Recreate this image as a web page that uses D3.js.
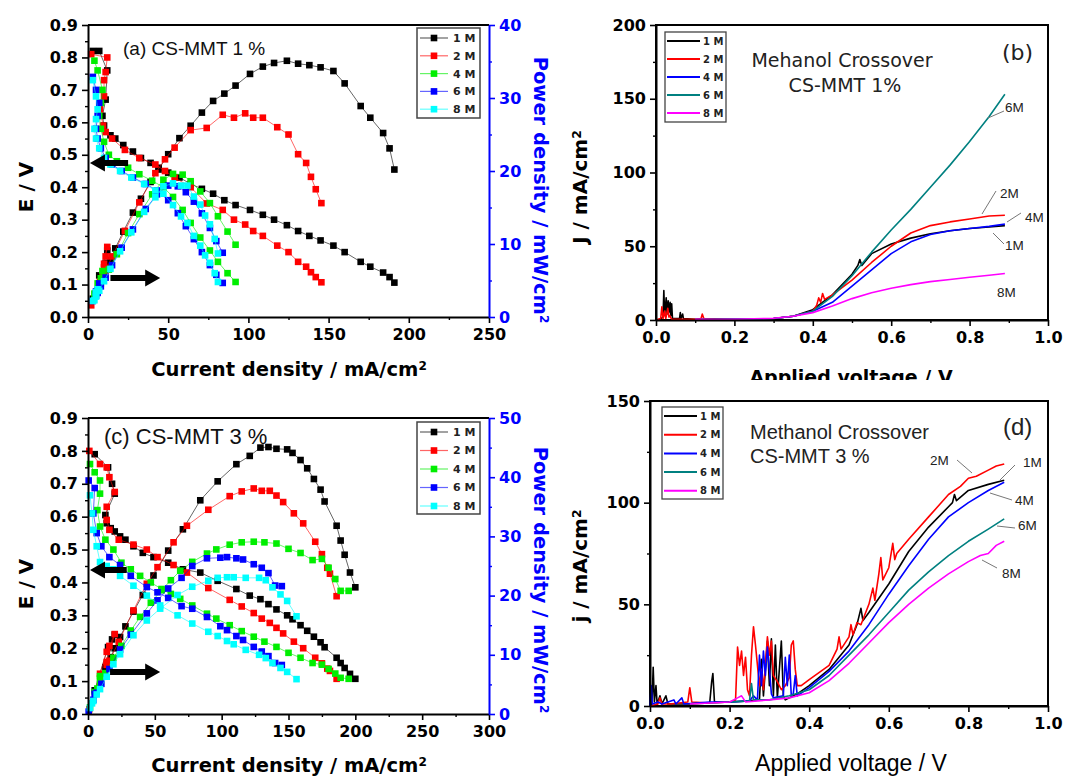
<!DOCTYPE html>
<html>
<head>
<meta charset="utf-8">
<script src="https://cdn.jsdelivr.net/npm/d3@7"></script>
<style>
  body { margin: 0; background: #fff; }
  svg { display: block; }
</style>
</head>
<body>
<svg id="fig" width="1081" height="778"></svg>
<script>
// ---------- labels and colours of the methanol concentrations ----------
const concLabels = ["1 M", "2 M", "4 M", "6 M", "8 M"];
const dotColors = ["#000000", "#ff0000", "#00ee00", "#0000ff", "#00ffff"];
const lineColors = ["#000000", "#ff0000", "#0000ff", "#008080", "#ff00ff"];

// ---------- tick values ----------
const eTicks = [0, 0.1, 0.2, 0.3, 0.4, 0.5, 0.6, 0.7, 0.8, 0.9];
const eMinor = [0.05, 0.15, 0.25, 0.35, 0.45, 0.55, 0.65, 0.75, 0.85];
const aCurTicks = [0, 50, 100, 150, 200, 250];
const aCurMinor = [25, 75, 125, 175, 225];
const cCurTicks = [0, 50, 100, 150, 200, 250, 300];
const cCurMinor = [25, 75, 125, 175, 225, 275];
const aPowTicks = [0, 10, 20, 30, 40];
const aPowMinor = [5, 15, 25, 35];
const cPowTicks = [0, 10, 20, 30, 40, 50];
const cPowMinor = [5, 15, 25, 35, 45];
const voltTicks = [0, 0.2, 0.4, 0.6, 0.8, 1.0];
const voltMinor = [0.1, 0.3, 0.5, 0.7, 0.9];
const bJTicks = [0, 50, 100, 150, 200];
const bJMinor = [25, 75, 125, 175];
const dJTicks = [0, 50, 100, 150];
const dJMinor = [25, 75, 125];

// ---------- (a) CS-MMT 1 %: current density (mA/cm2), cell voltage (V), power density (mW/cm2) ----------
const aI1 = [3,7,12,11,9,10,14,17,22,28,33,39,44,50,57,64,71,78,85,92,101,109,116,124,131,138,145,153,160,170,176,184,188,191];
const aE1 = [0.82,0.82,0.76,0.67,0.62,0.59,0.56,0.55,0.53,0.51,0.49,0.475,0.46,0.445,0.43,0.41,0.395,0.38,0.36,0.345,0.33,0.315,0.30,0.283,0.265,0.25,0.236,0.22,0.20,0.17,0.155,0.137,0.123,0.106];
const aP1 = [2.5,5.7,9.1,7.4,5.6,5.9,7.8,9.4,11.7,14.3,16.2,18.5,20.2,22.3,24.5,26.2,28.0,29.6,30.6,31.7,33.3,34.3,34.8,35.1,34.7,34.5,34.2,33.7,32.0,28.9,27.3,25.2,23.1,20.2];

const aI2 = [2,12,11,10,10,7.5,9.4,11,15,23,32,42,48,54,64,74,84,91,98,103,109,118,125,131,136,139,142,145.5];
const aE2 = [0.81,0.80,0.755,0.73,0.68,0.64,0.59,0.57,0.55,0.515,0.49,0.47,0.45,0.43,0.40,0.35,0.33,0.30,0.285,0.265,0.25,0.22,0.20,0.17,0.155,0.138,0.123,0.107];
const aP2 = [1.6,9.6,8.3,7.3,6.8,4.8,5.5,6.3,8.3,11.8,15.7,19.7,21.6,23.2,25.6,25.9,27.7,27.3,27.9,27.3,27.3,26.0,25.0,22.3,21.1,19.2,17.5,15.6];

const aI4 = [4,6,9,8,7,8,10,13,18,25,32,40,47,53,59,64,70,76,81,87,92];
const aE4 = [0.79,0.76,0.70,0.66,0.62,0.58,0.54,0.50,0.48,0.46,0.44,0.42,0.40,0.37,0.33,0.29,0.245,0.205,0.17,0.135,0.108];
const aP4 = [3.2,4.6,6.3,5.3,4.3,4.6,5.4,6.5,8.6,11.5,14.1,16.8,18.8,19.6,19.5,18.6,17.2,15.6,13.8,11.7,9.9];

const aI6 = [3,5,7,6,5,6,8,11,15,21,28,36,43,50,56,61,66,71,76,80,84];
const aE6 = [0.74,0.70,0.66,0.62,0.58,0.55,0.52,0.49,0.47,0.45,0.43,0.41,0.39,0.36,0.32,0.28,0.24,0.20,0.16,0.13,0.105];
const aP6 = [2.2,3.5,4.6,3.7,2.9,3.3,4.2,5.4,7.1,9.5,12.0,14.8,16.8,18.0,17.9,17.1,15.8,14.2,12.2,10.4,8.8];

const aI8 = [3,5,6,5,4,5,7,10,14,20,27,35,42,47,53,58,62,66,70,73,76,79,81];
const aE8 = [0.73,0.68,0.64,0.61,0.58,0.55,0.52,0.49,0.47,0.45,0.43,0.41,0.39,0.38,0.345,0.31,0.29,0.25,0.22,0.19,0.167,0.135,0.108];
const aP8 = [2.2,3.4,3.8,3.1,2.3,2.8,3.6,4.9,6.6,9.0,11.6,14.4,16.4,17.9,18.3,18.0,18.0,16.5,15.4,13.9,12.7,10.7,8.7];

// ---------- (c) CS-MMT 3 % ----------
const cI1 = [5,15,18,20,13,14,17,20,24,28,34,41,49,60,71,84,97,111,121,129,135,141,149,153,159,164,169,174,177,186,189,192,196,200];
const cE1 = [0.79,0.75,0.70,0.67,0.605,0.58,0.565,0.555,0.54,0.53,0.51,0.49,0.477,0.46,0.44,0.43,0.405,0.38,0.36,0.349,0.334,0.318,0.30,0.288,0.27,0.253,0.235,0.218,0.203,0.171,0.155,0.14,0.122,0.107];
const cP1 = [4.0,11.3,12.6,13.4,7.9,8.1,9.6,11.1,13.0,14.8,17.3,20.1,23.4,27.6,31.2,36.1,39.3,42.2,43.6,45.0,45.1,44.8,44.7,44.1,42.9,41.5,39.7,37.9,35.9,31.8,29.3,26.9,23.9,21.4];

const cI2 = [1,9,14,16,20,14,14,16,23,34,44,52,64,74,90,106,115,124,130,136,141,146,154,161,170,175,179,181,186];
const cE2 = [0.80,0.76,0.75,0.72,0.675,0.63,0.59,0.56,0.53,0.515,0.50,0.477,0.453,0.43,0.383,0.347,0.327,0.307,0.29,0.277,0.262,0.245,0.22,0.20,0.171,0.154,0.138,0.131,0.107];
const cP2 = [0.8,6.8,10.5,11.5,13.5,8.8,8.3,9.0,12.2,17.5,22.0,24.8,29.0,31.8,34.5,36.8,37.6,38.1,37.7,37.7,36.9,35.8,33.9,32.2,29.1,27.0,24.7,23.7,19.9];

const cI4 = [1.5,5,9,9,7,9,13,19,25,32,39,47,55,62,69,78,89,96,106,115,124,132,141,150,159,168,175,180,185,189,195];
const cE4 = [0.76,0.735,0.71,0.67,0.62,0.57,0.53,0.50,0.46,0.44,0.42,0.40,0.38,0.365,0.35,0.33,0.305,0.29,0.27,0.252,0.235,0.22,0.204,0.186,0.171,0.155,0.15,0.137,0.123,0.11,0.107];
const cP4 = [1.1,3.7,6.4,6.0,4.3,5.1,6.9,9.5,11.5,14.1,16.4,18.8,20.9,22.6,24.2,25.7,27.1,27.8,28.6,29.0,29.1,29.0,28.8,27.9,27.2,26.0,26.2,24.7,22.8,20.8,20.8];

const cI6 = [0.5,5,4,6.5,10,16,24,32,44,52,60,70,78,89,99,104,111,116,124,130,135,140,145];
const cE6 = [0.71,0.687,0.61,0.55,0.51,0.477,0.453,0.42,0.386,0.37,0.353,0.328,0.32,0.295,0.267,0.255,0.237,0.225,0.204,0.19,0.176,0.155,0.149];
const cP6 = [0.4,3.4,2.4,3.6,5.1,7.6,10.9,13.4,17.0,19.2,21.2,23.0,25.0,26.3,26.4,26.5,26.3,26.1,25.3,24.7,23.8,21.7,21.6];

const cI8 = [1.5,3,4,6.5,9,14,19,24,34,44,54,67,78,90,97,104,109,118,128,133,138,144,149,156];
const cE8 = [0.665,0.61,0.56,0.51,0.462,0.45,0.44,0.42,0.39,0.36,0.33,0.30,0.275,0.25,0.237,0.222,0.212,0.195,0.18,0.17,0.155,0.14,0.128,0.106];
const cP8 = [1.0,1.8,2.2,3.3,4.2,6.3,8.4,10.1,13.3,15.8,17.8,20.1,21.5,22.5,23.0,23.1,23.1,23.0,23.0,22.6,21.4,20.2,19.1,16.5];

// ---------- (b) methanol crossover, CS-MMT 1 %: [applied voltage V, j mA/cm2] ----------
const b1M = [[0,0],[0.01,0.5],[0.018,2],[0.02,20],[0.022,3],[0.026,15],[0.028,4],[0.031,13],[0.033,5],[0.036,12],[0.038,3],[0.04,11],[0.042,1],[0.06,1],[0.062,5],[0.064,1],[0.068,4],[0.07,1],[0.1,0.5],[0.2,0.5],[0.3,1],[0.35,2.5],[0.4,7],[0.45,17],[0.5,31],[0.515,37],[0.52,41],[0.525,37],[0.55,45],[0.6,51.5],[0.65,55.5],[0.7,58.5],[0.75,60.5],[0.8,62],[0.85,63],[0.89,64]];
const b2M = [[0,0],[0.012,1],[0.015,9],[0.018,1],[0.022,6],[0.025,1],[0.03,8],[0.033,2],[0.035,3],[0.04,0.5],[0.1,0.5],[0.115,1],[0.118,4],[0.122,1],[0.2,0.5],[0.3,1],[0.35,2.5],[0.4,6],[0.41,10],[0.415,15],[0.42,12],[0.425,18],[0.43,14],[0.45,17],[0.5,27],[0.55,39],[0.6,50],[0.65,59],[0.7,64],[0.75,66.5],[0.8,68.5],[0.85,70.5],[0.89,71]];
const b4M = [[0.1,0.3],[0.2,0.5],[0.3,1],[0.35,2.5],[0.4,6],[0.45,12],[0.5,23],[0.55,34],[0.6,45],[0.65,53],[0.7,58],[0.75,60.5],[0.8,62],[0.85,63.5],[0.89,65]];
const b6M = [[0.1,0.3],[0.2,0.5],[0.3,1],[0.35,2.5],[0.4,6],[0.45,16],[0.5,30],[0.55,46],[0.6,61],[0.65,75],[0.7,90],[0.75,105],[0.8,121],[0.85,138],[0.89,153]];
const b8M = [[0.1,0.5],[0.15,0.3],[0.2,0.5],[0.25,0.8],[0.3,1.2],[0.35,2.5],[0.4,5],[0.45,9.5],[0.5,14.5],[0.55,18.5],[0.6,21.5],[0.65,24],[0.7,26],[0.75,27.5],[0.8,29],[0.85,30.3],[0.89,31.5]];

// ---------- (d) methanol crossover, CS-MMT 3 % ----------
const d1M = [[0,0],[0.005,1],[0.008,19],[0.011,2],[0.015,10],[0.018,1],[0.025,5],[0.03,1],[0.04,5],[0.045,1],[0.1,1],[0.15,1.5],[0.155,12],[0.158,16],[0.162,2],[0.2,2],[0.25,2.5],[0.275,3],[0.28,23],[0.285,5],[0.295,32],[0.3,10],[0.305,33],[0.31,5],[0.315,30],[0.32,4],[0.33,32],[0.335,5],[0.34,3],[0.37,6],[0.4,10],[0.45,18],[0.5,30],[0.52,40],[0.53,48],[0.535,42],[0.55,46],[0.6,60],[0.65,76],[0.7,88],[0.75,98],[0.76,100],[0.765,104],[0.77,101],[0.8,106],[0.85,109],[0.89,111]];
const d2M = [[0,0],[0.02,1],[0.025,4],[0.03,1],[0.05,1],[0.095,2],[0.1,9],[0.105,2],[0.15,1.5],[0.2,2],[0.215,3],[0.22,29],[0.225,20],[0.23,27],[0.235,15],[0.24,24],[0.245,8],[0.25,5],[0.255,25],[0.26,39],[0.265,30],[0.27,20],[0.275,10],[0.28,18],[0.285,8],[0.29,20],[0.295,34],[0.3,25],[0.305,32],[0.31,15],[0.32,12],[0.33,8],[0.34,10],[0.35,14],[0.355,30],[0.36,32],[0.365,18],[0.37,10],[0.38,10],[0.4,13],[0.45,20],[0.47,28],[0.475,34],[0.48,28],[0.5,34],[0.505,40],[0.51,35],[0.52,41],[0.53,40],[0.55,50],[0.56,58],[0.565,52],[0.575,65],[0.58,73],[0.585,62],[0.6,68],[0.61,80],[0.615,72],[0.62,75],[0.65,82],[0.7,93],[0.75,104],[0.78,108],[0.8,112],[0.82,113],[0.85,116],[0.87,118],[0.89,119]];
const d4M = [[0,0],[0.003,10],[0.006,1],[0.02,2],[0.03,1],[0.06,3],[0.065,1],[0.08,4],[0.085,1],[0.15,2],[0.2,2],[0.25,2.5],[0.26,5],[0.27,3],[0.275,25],[0.28,10],[0.285,27],[0.29,15],[0.295,29],[0.3,18],[0.305,6],[0.31,4],[0.335,5],[0.34,24],[0.345,10],[0.35,25],[0.355,5],[0.36,6],[0.365,15],[0.37,5],[0.4,9],[0.45,17],[0.5,27],[0.55,40],[0.6,55],[0.65,69],[0.7,82],[0.75,93],[0.8,100],[0.85,106],[0.89,110]];
const d6M = [[0.15,1.5],[0.2,2],[0.25,2.5],[0.255,11],[0.26,3],[0.3,3],[0.35,5],[0.4,8],[0.45,15],[0.5,25],[0.55,35],[0.6,46],[0.65,57],[0.7,66],[0.75,74],[0.8,81],[0.85,87],[0.89,92]];
const d8M = [[0.1,1],[0.2,2],[0.22,4],[0.23,5],[0.24,2],[0.3,3],[0.35,4],[0.4,6.5],[0.45,12.5],[0.5,21],[0.55,31],[0.6,41],[0.65,50],[0.7,58],[0.75,65],[0.8,71],[0.83,74],[0.85,75],[0.87,79],[0.89,81]];

// ---------- drawing ----------
const FB = "'DejaVu Sans', sans-serif";
const FA = "'Liberation Sans', Arial, sans-serif";
const svg = d3.select("#fig");

function styleAxis(g, color, fs) {
  g.select(".domain").attr("stroke", color).attr("stroke-width", 2);
  g.selectAll(".tick line").attr("stroke", color).attr("stroke-width", 1.6);
  g.selectAll(".tick text").attr("fill", color)
    .style("font-family", FB).style("font-weight", "bold").style("font-size", fs + "px");
}
function minor(g, gen, color) {
  g.call(gen);
  g.select(".domain").remove();
  g.selectAll(".tick line").attr("stroke", color).attr("stroke-width", 1.4);
}
function axisPair(g, maker, scale, majors, minors, fmt, color, fs, pad) {
  const gMaj = g.append("g");
  gMaj.call(maker(scale).tickValues(majors).tickFormat(fmt).tickSize(6).tickSizeOuter(0).tickPadding(pad));
  styleAxis(gMaj, color, fs);
  minor(g.append("g"), maker(scale).tickValues(minors).tickFormat("").tickSize(3).tickSizeOuter(0), color);
}

// text with a superscript tail
function titleText(parent, x, y, rot, main, sup, opts) {
  const t = parent.append("text")
    .attr("transform", `translate(${x},${y}) rotate(${rot})`)
    .attr("text-anchor", opts.anchor || "middle")
    .style("font-family", opts.family || FB)
    .style("font-weight", opts.weight || "bold")
    .style("font-size", opts.size + "px")
    .attr("fill", opts.color || "#000");
  t.append("tspan").text(main);
  if (sup) t.append("tspan").attr("dy", "-0.5em").style("font-size", "62%").text(sup);
  return t;
}

function arrowShape(g, x0, x1, y, left) {
  // thick block arrow; tip at x0 when pointing left, at x1 when pointing right
  const head = 15, hw = 8.5, sw = 3;
  let pts;
  if (left) {
    pts = [[x0, y], [x0 + head, y - hw], [x0 + head, y - sw], [x1, y - sw], [x1, y + sw], [x0 + head, y + sw], [x0 + head, y + hw]];
  } else {
    pts = [[x1, y], [x1 - head, y - hw], [x1 - head, y - sw], [x0, y - sw], [x0, y + sw], [x1 - head, y + sw], [x1 - head, y + hw]];
  }
  g.append("polygon").attr("points", pts.map(p => p.join(",")).join(" ")).attr("fill", "#000");
}

function polarizationPanel(cfg) {
  const g = svg.append("g");
  const x = d3.scaleLinear().domain(cfg.xDomain).range([88, 489]);
  const yE = d3.scaleLinear().domain([0, 0.9]).range([cfg.bottom, cfg.top]);
  const yP = d3.scaleLinear().domain(cfg.pDomain).range([cfg.bottom, cfg.top]);

  // frame: top line
  g.append("line").attr("x1", 88).attr("x2", 489).attr("y1", cfg.top).attr("y2", cfg.top)
    .attr("stroke", "#000").attr("stroke-width", 2);

  // series: polarization (E) and power (P) curves
  cfg.series.forEach((s, k) => {
    [s.E, s.P].forEach((vals, m) => {
      const yS = m === 0 ? yE : yP;
      const pts = s.I.map((v, j) => [v, vals[j]]);
      g.append("path").datum(pts)
        .attr("d", d3.line().x(d => x(d[0])).y(d => yS(d[1])))
        .attr("fill", "none").attr("stroke", dotColors[k]).attr("stroke-width", 1).attr("opacity", 0.6);
      g.selectAll(null).data(pts).join("rect")
        .attr("x", d => x(d[0]) - 3.3).attr("y", d => yS(d[1]) - 3.3)
        .attr("width", 6.6).attr("height", 6.6).attr("fill", dotColors[k]);
    });
  });

  // axes
  axisPair(g.append("g").attr("transform", `translate(0,${cfg.bottom})`), d3.axisBottom, x, cfg.xTicks, cfg.xMinor, d3.format("d"), "#000", 16, 6);
  axisPair(g.append("g").attr("transform", "translate(88,0)"), d3.axisLeft, yE, eTicks, eMinor, d3.format(".1f"), "#000", 16, 4);
  axisPair(g.append("g").attr("transform", "translate(489,0)"), d3.axisRight, yP, cfg.pTicks, cfg.pMinor, d3.format("d"), "#0000ff", 16, 4);

  // arrows pointing to the matching axes
  arrowShape(g, x(cfg.leftArrow[0]), x(cfg.leftArrow[1]), yE(cfg.leftArrow[2]), true);
  arrowShape(g, x(cfg.rightArrow[0]), x(cfg.rightArrow[1]), yE(cfg.rightArrow[2]), false);

  // panel label
  g.append("text").attr("x", cfg.label[1]).attr("y", cfg.label[2]).text(cfg.label[0])
    .style("font-family", FA).style("font-size", cfg.label[3] + "px").attr("fill", "#111");

  // legend
  const L = cfg.legend;
  g.append("rect").attr("x", L.x).attr("y", L.y).attr("width", L.w).attr("height", L.h)
    .attr("fill", "#fff").attr("stroke", "#444").attr("stroke-width", 1.5);
  concLabels.forEach((lab, k) => {
    const yy = L.y + L.first + k * L.step;
    g.append("line").attr("x1", L.x + 3).attr("x2", L.x + 31).attr("y1", yy).attr("y2", yy)
      .attr("stroke", dotColors[k]).attr("stroke-width", 1.2).attr("opacity", 0.6);
    g.append("rect").attr("x", L.x + 17 - 3.3).attr("y", yy - 3.3).attr("width", 6.6).attr("height", 6.6)
      .attr("fill", dotColors[k]);
    g.append("text").attr("x", L.x + 36).attr("y", yy).attr("dy", "0.36em").text(lab)
      .style("font-family", FB).style("font-weight", "bold").style("font-size", "11px").attr("fill", "#222");
  });

  // axis titles
  titleText(g, 289, cfg.xTitleY, 0, "Current density / mA/cm", "2", { size: 19.5 });
  titleText(g, 33, cfg.eTitleY, -90, "E / V", null, { size: 20 });
  titleText(g, 534, cfg.pTitleY, 90, "Power density / mW/cm", "2", { size: 19.5, color: "#0000ff" });
}

polarizationPanel({
  top: 25, bottom: 317, xDomain: [0, 250], xTicks: aCurTicks, xMinor: aCurMinor,
  pDomain: [0, 40], pTicks: aPowTicks, pMinor: aPowMinor,
  series: [
    { I: aI1, E: aE1, P: aP1 }, { I: aI2, E: aE2, P: aP2 }, { I: aI4, E: aE4, P: aP4 },
    { I: aI6, E: aE6, P: aP6 }, { I: aI8, E: aE8, P: aP8 }
  ],
  leftArrow: [1.2, 25, 0.475], rightArrow: [14, 45, 0.12],
  label: ["(a) CS-MMT 1 %", 123, 55, 19],
  legend: { x: 417, y: 28, w: 63, h: 90, first: 10, step: 17.8 },
  xTitleY: 376, eTitleY: 187, pTitleY: 190
});

polarizationPanel({
  top: 418, bottom: 714, xDomain: [0, 300], xTicks: cCurTicks, xMinor: cCurMinor,
  pDomain: [0, 50], pTicks: cPowTicks, pMinor: cPowMinor,
  series: [
    { I: cI1, E: cE1, P: cP1 }, { I: cI2, E: cE2, P: cP2 }, { I: cI4, E: cE4, P: cP4 },
    { I: cI6, E: cE6, P: cP6 }, { I: cI8, E: cE8, P: cP8 }
  ],
  leftArrow: [1.5, 29, 0.438], rightArrow: [16.5, 54, 0.128],
  label: ["(c) CS-MMT 3 %", 104, 444, 22],
  legend: { x: 417, y: 422, w: 63, h: 92, first: 10, step: 18.5 },
  xTitleY: 772, eTitleY: 584, pTitleY: 580
});

function crossoverPanel(cfg) {
  const g = svg.append("g");
  const x = d3.scaleLinear().domain([0, 1]).range([cfg.left, 1048]);
  const y = d3.scaleLinear().domain(cfg.yDomain).range([cfg.bottom, cfg.top]);

  // frame
  g.append("rect").attr("x", cfg.left).attr("y", cfg.top).attr("width", 1048 - cfg.left)
    .attr("height", cfg.bottom - cfg.top).attr("fill", "none").attr("stroke", "#000").attr("stroke-width", 2);

  cfg.series.forEach((pts, k) => {
    g.append("path").datum(pts)
      .attr("d", d3.line().x(d => x(d[0])).y(d => y(d[1])))
      .attr("fill", "none").attr("stroke", lineColors[k]).attr("stroke-width", 1.6)
      .attr("stroke-linejoin", "round");
  });

  axisPair(g.append("g").attr("transform", `translate(0,${cfg.bottom})`), d3.axisBottom, x, voltTicks, voltMinor, d3.format(".1f"), "#000", 16, 6);
  axisPair(g.append("g").attr("transform", `translate(${cfg.left},0)`), d3.axisLeft, y, cfg.yTicks, cfg.yMinor, d3.format("d"), "#000", 16, 4);

  // legend
  const L = cfg.legend;
  g.append("rect").attr("x", L.x).attr("y", L.y).attr("width", L.w).attr("height", L.h)
    .attr("fill", "#fff").attr("stroke", "#444").attr("stroke-width", 1.3);
  concLabels.forEach((lab, k) => {
    const yy = L.y + L.first + k * L.step;
    g.append("line").attr("x1", L.x + 2).attr("x2", L.x + 35).attr("y1", yy).attr("y2", yy)
      .attr("stroke", lineColors[k]).attr("stroke-width", 2);
    g.append("text").attr("x", L.x + 38).attr("y", yy).attr("dy", "0.36em").text(lab)
      .style("font-family", FB).style("font-weight", "bold").style("font-size", "10px").attr("fill", "#222");
  });

  // in-plot notes
  cfg.notes.forEach(n => {
    g.append("text").attr("x", n.x).attr("y", n.y).attr("text-anchor", n.anchor || "start").text(n.t)
      .style("font-family", n.family).style("font-size", n.size + "px").attr("fill", "#222");
  });

  // concentration tags, most with a leader line
  cfg.tags.forEach(t => {
    if (t.l) {
      g.append("line").attr("x1", t.l[0]).attr("y1", t.l[1]).attr("x2", t.l[2]).attr("y2", t.l[3])
        .attr("stroke", "#777").attr("stroke-width", 1);
    }
    g.append("text").attr("x", t.x).attr("y", t.y).text(t.t)
      .style("font-family", FA).style("font-size", "13.5px").attr("fill", "#222");
  });

  titleText(g, 587, cfg.yTitleY, -90, cfg.yTitle, "2", { size: 20 });
  const xt = titleText(g, 851, cfg.xTitle.y, 0, "Applied voltage / V", null,
    { size: cfg.xTitle.size, family: cfg.xTitle.family, weight: cfg.xTitle.weight });
  if (cfg.xTitle.clip) xt.attr("clip-path", "url(#" + cfg.xTitle.clip + ")");
}

// clip region that trims the lower edge of the upper voltage title (in the title's own frame)
svg.append("defs").append("clipPath").attr("id", "bTitleClip")
  .append("rect").attr("x", -251).attr("y", -44).attr("width", 480).attr("height", 40);

crossoverPanel({
  left: 656, top: 25, bottom: 320, yDomain: [0, 200], yTicks: bJTicks, yMinor: bJMinor,
  series: [b1M, b2M, b4M, b6M, b8M],
  legend: { x: 665, y: 32, w: 61, h: 90, first: 9, step: 18 },
  notes: [
    { t: "Mehanol Crossover", x: 842, y: 67, anchor: "middle", family: FB, size: 19 },
    { t: "CS-MMT 1%", x: 845, y: 92, anchor: "middle", family: FB, size: 19 },
    { t: "(b)", x: 1002, y: 60, family: FB, size: 22 }
  ],
  tags: [
    { t: "6M", x: 1005, y: 112, l: [988, 118, 1004, 111] },
    { t: "2M", x: 1000, y: 198, l: [982, 214, 996, 191] },
    { t: "4M", x: 1025, y: 222, l: [1007, 222, 1021, 213] },
    { t: "1M", x: 1005, y: 250, l: [993, 233, 1004, 244] },
    { t: "8M", x: 997, y: 297 }
  ],
  yTitle: "J / mA/cm", yTitleY: 187,
  xTitle: { y: 384, size: 19, family: FB, weight: "bold", clip: "bTitleClip" }
});

crossoverPanel({
  left: 650, top: 401, bottom: 706, yDomain: [0, 150], yTicks: dJTicks, yMinor: dJMinor,
  series: [d1M, d2M, d4M, d6M, d8M],
  legend: { x: 662, y: 407, w: 61, h: 92, first: 9, step: 18.7 },
  notes: [
    { t: "Methanol Crossover", x: 750, y: 439, family: FA, size: 20 },
    { t: "CS-MMT 3 %", x: 750, y: 463, family: FA, size: 20 },
    { t: "(d)", x: 1003, y: 435, family: FA, size: 24 }
  ],
  tags: [
    { t: "2M", x: 930, y: 465, l: [957, 460, 972, 473] },
    { t: "1M", x: 1023, y: 467, l: [1000, 480, 1015, 465] },
    { t: "4M", x: 1015, y: 505, l: [990, 493, 1012, 500] },
    { t: "6M", x: 1018, y: 530, l: [997, 526, 1015, 528] },
    { t: "8M", x: 1002, y: 578, l: [982, 560, 997, 568] }
  ],
  yTitle: "j / mA/cm", yTitleY: 566,
  xTitle: { y: 771, size: 23, family: FA, weight: "normal" }
});
</script>
</body>
</html>
